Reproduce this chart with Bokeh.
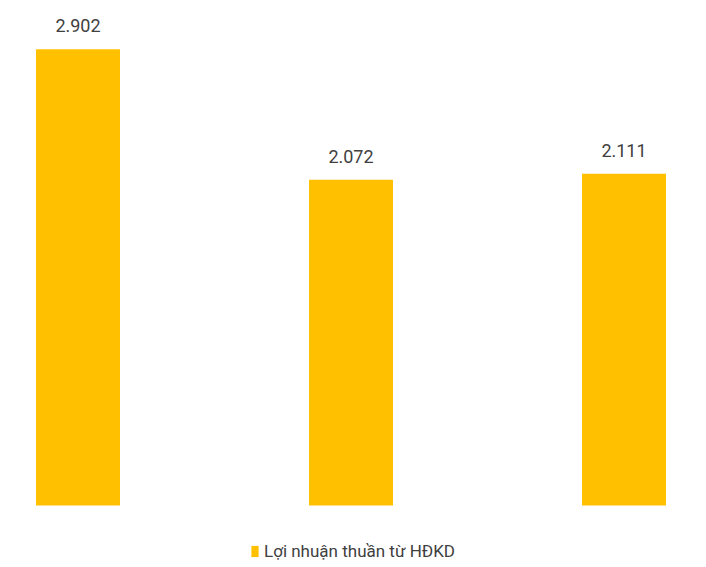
from bokeh.plotting import figure
from bokeh.models import ColumnDataSource, Legend, LegendItem, LabelSet
from bokeh.core.properties import value
from bokeh.embed import file_html
from bokeh.resources import INLINE

categories = ["Kỳ 1", "Kỳ 2", "Kỳ 3"]
values = [2.902, 2.072, 2.111]
labels = ["2.902", "2.072", "2.111"]
series_name = "Lợi nhuận thuần từ HĐKD"

W, H = 706, 567
px_per_unit_x = 273.0
x0_px = 77.5
px_per_unit_y = 157.2
base_px = 505.0

src = ColumnDataSource(dict(x=list(range(len(categories))), top=values, cat=categories, lab=labels))

p = figure(width=W, height=H, output_backend="svg", toolbar_location=None,
           x_range=(-x0_px / px_per_unit_x, (W - x0_px) / px_per_unit_x),
           y_range=(-(H - base_px) / px_per_unit_y, base_px / px_per_unit_y),
           min_border=0, outline_line_color=None, background_fill_color="white",
           border_fill_color="white")
p.axis.visible = False
p.grid.visible = False

r = p.vbar(x="x", top="top", bottom=0, width=84 / px_per_unit_x, source=src,
           fill_color="#FFC000", line_color=None)

lbl = LabelSet(x="x", y="top", text="lab", source=src, text_align="center",
               text_baseline="bottom", y_offset=17, text_font=value("Roboto"),
               text_font_size="18px", text_color="#404040")
p.add_layout(lbl)

legend = Legend(items=[LegendItem(label=series_name, renderers=[r])],
                location=(250, 6), orientation="horizontal",
                border_line_color=None, background_fill_alpha=0,
                label_text_font="Roboto", label_text_font_size="17px",
                label_text_color="#404040", glyph_width=9, glyph_height=14,
                label_standoff=5, padding=0, margin=0, spacing=0)
p.add_layout(legend)

open("out.html", "w").write(file_html(p, INLINE))
